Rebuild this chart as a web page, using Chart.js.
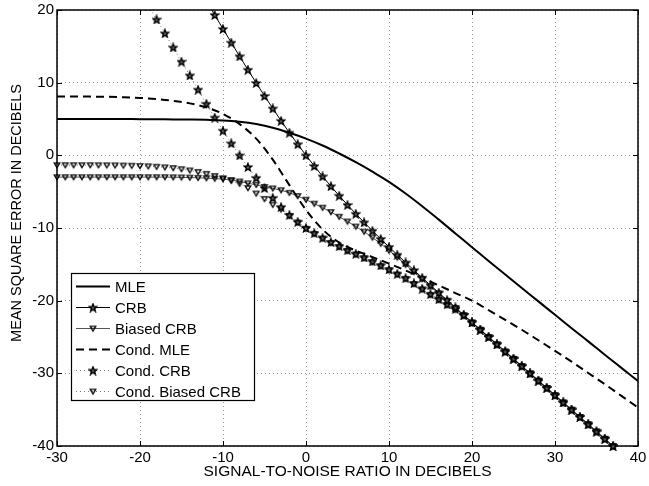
<!DOCTYPE html>
<html>
<head>
<meta charset="utf-8">
<script src="https://cdn.jsdelivr.net/npm/chart.js@4.4.1/dist/chart.umd.min.js"></script>
<style>
  html, body { margin: 0; padding: 0; background: #fff; }
  #wrap { width: 649px; height: 486px; position: relative; }
</style>
</head>
<body>
<div id="wrap"><canvas id="chart"></canvas></div>
<script>
const FONT = "'Liberation Sans', Arial, Helvetica, sans-serif";

// smooth curves (no markers), read every 2 dB
const snrMle = [-30, -28, -26, -24, -22, -20, -18, -16, -14, -12, -10, -8, -6, -4, -2, 0, 2, 4,
  6, 8, 10, 12, 14, 16, 18, 20, 22, 24, 26, 28, 30, 32, 34, 36, 38, 40];
const mle = [5.0, 5.0, 5.0, 5.0, 5.0, 4.98, 4.96, 4.94, 4.92, 4.88, 4.8, 4.62, 4.3, 3.8, 3.1, 2.3, 1.35, 0.25,
  -0.95, -2.25, -3.65, -5.25, -7.0, -8.85, -10.75, -12.65, -14.55, -16.4, -18.25, -20.1, -21.95, -23.8, -25.6, -27.45, -29.25, -31.05];
const condMle = [8.1, 8.1, 8.08, 8.05, 8.0, 7.9, 7.75, 7.5, 7.15, 6.6, 5.7, 4.3, 2.3, -0.6, -4.1, -7.5, -10.2, -12.0,
  -13.1, -14.0, -14.9, -15.85, -16.85, -17.9, -18.95, -20.0, -21.3, -22.65, -24.0, -25.45, -26.9, -28.4, -29.95, -31.5, -33.1, -34.7];

// marker series, one mark per dB
const snrCrb = [-12, -11, -10, -9, -8, -7, -6, -5, -4, -3, -2, -1, 0, 1, 2, 3, 4, 5, 6, 7, 8, 9, 10,
  11, 12, 13, 14, 15, 16, 17, 18, 19, 20, 21, 22, 23, 24, 25, 26, 27, 28, 29, 30, 31, 32, 33, 34, 35, 36, 37];
const crb = [21.26, 19.32, 17.4, 15.51, 13.63, 11.78, 9.96, 8.18, 6.45, 4.75, 3.11, 1.53, 0.0,
  -1.47, -2.89, -4.25, -5.56, -6.82, -8.04, -9.22, -10.37, -11.5, -12.6, -13.68, -14.74, -15.8, -16.84, -17.88, -18.9, -19.92, -20.94, -21.96, -22.97,
  -23.98, -24.98, -25.99, -26.99, -27.99, -29.0, -30.0, -31.0, -32.01, -33.01, -34.01, -35.01, -36.01, -37.01, -38.01, -39.01, -40.01];

const snrBiased = [-30, -29, -28, -27, -26, -25, -24, -23, -22, -21, -20, -19, -18, -17, -16, -15, -14, -13,
  -12, -11, -10, -9, -8, -7, -6, -5, -4, -3, -2, -1, 0, 1, 2, 3, 4, 5, 6, 7, 8, 9, 10, 11, 12, 13, 14, 15, 16,
  17, 18, 19, 20, 21, 22, 23, 24, 25, 26, 27, 28, 29, 30, 31, 32, 33, 34, 35, 36, 37];
const biasedCrb = [-3.0, -3.0, -3.0, -3.0, -3.0, -3.0, -3.0, -3.0, -3.0, -3.0, -3.0, -3.0, -3.0, -3.0,
  -3.02, -3.04, -3.06, -3.1, -3.14, -3.2, -3.28, -3.4, -3.6, -3.85, -4.05, -4.35, -4.55, -4.8, -5.15, -5.6, -6.1,
  -6.65, -7.2, -7.8, -8.45, -9.1, -9.8, -10.5, -11.3, -12.15, -13.1, -14.05, -15.05, -16.05, -17.03, -18.03, -19.0, -20.0, -21.0, -22.0, -23.0,
  -24.0, -25.0, -26.0, -27.0, -28.0, -29.01, -30.01, -31.01, -32.01, -33.01, -34.01, -35.01, -36.01, -37.01, -38.01, -39.01, -40.01];
const condBiasedCrb = [-1.35, -1.35, -1.35, -1.35, -1.35,
  -1.36, -1.37, -1.38, -1.4, -1.43, -1.47, -1.51, -1.57, -1.65, -1.75, -1.9, -2.07, -2.28, -2.55, -2.85,
  -3.15, -3.5, -3.9, -4.5, -5.25, -6.0, -6.8, -7.45, -8.35, -9.25, -10.1,
  -10.8, -11.45, -12.05, -12.6, -13.15, -13.65, -14.15, -14.7, -15.25, -15.8, -16.4, -17.0, -17.7, -18.45, -19.2, -19.9, -20.6, -21.25, -22.05, -23.03,
  -24.02, -25.02, -26.02, -27.02, -28.02, -29.02, -30.02, -31.02, -32.02, -33.02, -34.02, -35.02, -36.02, -37.02, -38.02, -39.02, -40.02];

const snrCondCrb = [-19, -18, -17, -16, -15, -14, -13, -12, -11, -10, -9, -8, -7, -6, -5, -4, -3, -2, -1, 0,
  1, 2, 3, 4, 5, 6, 7, 8, 9, 10, 11, 12, 13, 14, 15, 16, 17, 18, 19, 20,
  21, 22, 23, 24, 25, 26, 27, 28, 29, 30, 31, 32, 33, 34, 35, 36, 37];
const condCrb = [20.6, 18.7, 16.8, 14.85, 12.9, 11.0, 9.05, 7.1, 5.2, 3.4, 1.65, 0.0, -1.6, -3.1, -4.5, -5.85, -7.1, -8.2, -9.15, -10.0,
  -10.7, -11.35, -11.95, -12.5, -13.05, -13.55, -14.05, -14.6, -15.15, -15.7, -16.3, -16.9, -17.6, -18.35, -19.1, -19.8, -20.5, -21.15, -22.0, -23.0,
  -24.0, -25.0, -26.0, -27.0, -28.0, -29.0, -30.0, -31.0, -32.0, -33.0, -34.0, -35.0, -36.0, -37.0, -38.0, -39.0, -40.0];

const xTicks = [-30, -20, -10, 0, 10, 20, 30, 40];
const yTicks = [-40, -30, -20, -10, 0, 10, 20];

const pts = (xs, ys) => xs.map((x, i) => ({ x: x, y: ys[i] }));

// MATLAB-like markers drawn once on small canvases
function starMark() {
  const c = document.createElement('canvas');
  c.width = 10; c.height = 10;
  const g = c.getContext('2d');
  g.strokeStyle = '#000';
  g.fillStyle = '#666';
  g.lineWidth = 1.4;
  g.beginPath();
  for (let i = 0; i < 10; i++) {
    const r = i % 2 ? 1.7 : 4.0;
    const a = -Math.PI / 2 + i * Math.PI / 5;
    const px = 5 + r * Math.cos(a), py = 5.4 + r * Math.sin(a);
    if (i) g.lineTo(px, py); else g.moveTo(px, py);
  }
  g.closePath();
  g.fill();
  g.stroke();
  return c;
}
function triMark() {
  const c = document.createElement('canvas');
  c.width = 10; c.height = 10;
  const g = c.getContext('2d');
  g.strokeStyle = '#000';
  g.lineWidth = 1.3;
  g.beginPath();
  g.moveTo(2.2, 2.8);
  g.lineTo(7.8, 2.8);
  g.lineTo(5, 7.5);
  g.closePath();
  g.stroke();
  return c;
}
const star = starMark();
const tri = triMark();

const markClip = { left: 6, right: 6, top: 0, bottom: 6 };

const axesFrame = {
  id: 'axesFrame',
  beforeDatasetsDraw(chart) {
    const { ctx, chartArea: a, scales: { x, y } } = chart;
    ctx.save();
    ctx.strokeStyle = '#000';
    ctx.lineWidth = 1;
    ctx.beginPath();
    xTicks.forEach(v => {
      const px = Math.round(x.getPixelForValue(v)) + 0.5;
      ctx.moveTo(px, a.bottom); ctx.lineTo(px, a.bottom - 5);
      ctx.moveTo(px, a.top); ctx.lineTo(px, a.top + 5);
    });
    yTicks.forEach(v => {
      const py = Math.round(y.getPixelForValue(v)) + 0.5;
      ctx.moveTo(a.left, py); ctx.lineTo(a.left + 5, py);
      ctx.moveTo(a.right, py); ctx.lineTo(a.right - 5, py);
    });
    ctx.stroke();
    ctx.lineWidth = 1.5;
    ctx.strokeRect(a.left, a.top, a.right - a.left, a.bottom - a.top);
    ctx.restore();
  },
  afterDraw(chart) {
    // y label, drawn here to place it like the original
    const { ctx, chartArea: a } = chart;
    ctx.save();
    ctx.translate(17, (a.top + a.bottom) / 2 - 15);
    ctx.rotate(-Math.PI / 2);
    ctx.font = '14.5px ' + FONT;
    ctx.fillStyle = '#000';
    ctx.textAlign = 'center';
    ctx.textBaseline = 'middle';
    ctx.fillText('MEAN SQUARE ERROR IN DECIBELS', 0, 0);
    ctx.restore();
  }
};

const legendBox = {
  id: 'legendBox',
  afterDraw(chart) {
    const { ctx, chartArea: a } = chart;
    const left = a.left + 14, top = a.top + 263, w = 183, h = 127;
    ctx.save();
    ctx.fillStyle = '#fff';
    ctx.fillRect(left, top, w, h);
    ctx.strokeStyle = '#000';
    ctx.lineWidth = 1.2;
    ctx.strokeRect(left + 0.5, top + 0.5, w, h);
    ctx.font = '15px ' + FONT;
    ctx.textBaseline = 'middle';
    chart.data.datasets.forEach((ds, i) => {
      const cy = Math.round(top + 13 + i * 20.9) + 0.5;
      ctx.save();
      ctx.strokeStyle = ds.borderColor;
      ctx.lineWidth = ds.borderWidth;
      ctx.setLineDash(ds.borderDash || []);
      ctx.beginPath();
      ctx.moveTo(left + 5, cy);
      ctx.lineTo(left + 39, cy);
      ctx.stroke();
      ctx.restore();
      if (ds.pointStyle instanceof HTMLCanvasElement) {
        ctx.drawImage(ds.pointStyle, left + 22 - 5, cy - 5);
      }
      ctx.fillStyle = '#000';
      ctx.fillText(ds.label, left + 44, cy + 1);
    });
    ctx.restore();
  }
};

new Chart(document.getElementById('chart'), {
  type: 'line',
  data: {
    datasets: [
      { label: 'MLE', data: pts(snrMle, mle), borderColor: '#000', borderWidth: 2,
        pointRadius: 0, pointStyle: false, tension: 0.4 },
      { label: 'CRB', data: pts(snrCrb, crb), borderColor: '#000', borderWidth: 1,
        pointStyle: star, pointRadius: 4, clip: markClip },
      { label: 'Biased CRB', data: pts(snrBiased, biasedCrb), borderColor: '#555', borderWidth: 1,
        pointStyle: tri, pointRadius: 4, clip: markClip },
      { label: 'Cond. MLE', data: pts(snrMle, condMle), borderColor: '#000', borderWidth: 2, borderDash: [8, 5],
        pointRadius: 0, pointStyle: false, cubicInterpolationMode: 'monotone' },
      { label: 'Cond. CRB', data: pts(snrCondCrb, condCrb), borderColor: '#777', borderWidth: 1, borderDash: [1, 3],
        pointStyle: star, pointRadius: 4, clip: markClip },
      { label: 'Cond. Biased CRB', data: pts(snrBiased, condBiasedCrb), borderColor: '#777', borderWidth: 1, borderDash: [1, 3],
        pointStyle: tri, pointRadius: 4, clip: markClip }
    ]
  },
  options: {
    responsive: true,
    maintainAspectRatio: false,
    animation: false,
    events: [],
    layout: { padding: { top: 10, right: 11, left: 0, bottom: 0 } },
    plugins: { legend: { display: false }, tooltip: { enabled: false } },
    scales: {
      x: {
        type: 'linear', min: -30, max: 40,
        afterBuildTicks: s => { s.ticks = xTicks.map(v => ({ value: v })); },
        ticks: { autoSkip: false, maxRotation: 0, padding: 3, color: '#000', font: { family: FONT, size: 15 } },
        grid: { color: '#999', lineWidth: 1, drawTicks: false },
        border: { display: false, dash: [1, 3] },
        title: { display: true, text: 'SIGNAL-TO-NOISE RATIO IN DECIBELS', color: '#000',
          font: { family: FONT, size: 15.5 }, padding: { top: 0, bottom: 5 } },
        afterFit: s => { s.height = 40; s.paddingLeft = 0; s.paddingRight = 0; }
      },
      y: {
        type: 'linear', min: -40, max: 20,
        afterBuildTicks: s => { s.ticks = yTicks.map(v => ({ value: v })); },
        ticks: { padding: 3, color: '#000', font: { family: FONT, size: 15 } },
        grid: { color: '#999', lineWidth: 1, drawTicks: false },
        border: { display: false, dash: [1, 3] },
        afterFit: s => { s.width = 57; s.paddingTop = 0; s.paddingBottom = 0; }
      }
    }
  },
  plugins: [axesFrame, legendBox]
});
</script>
</body>
</html>
